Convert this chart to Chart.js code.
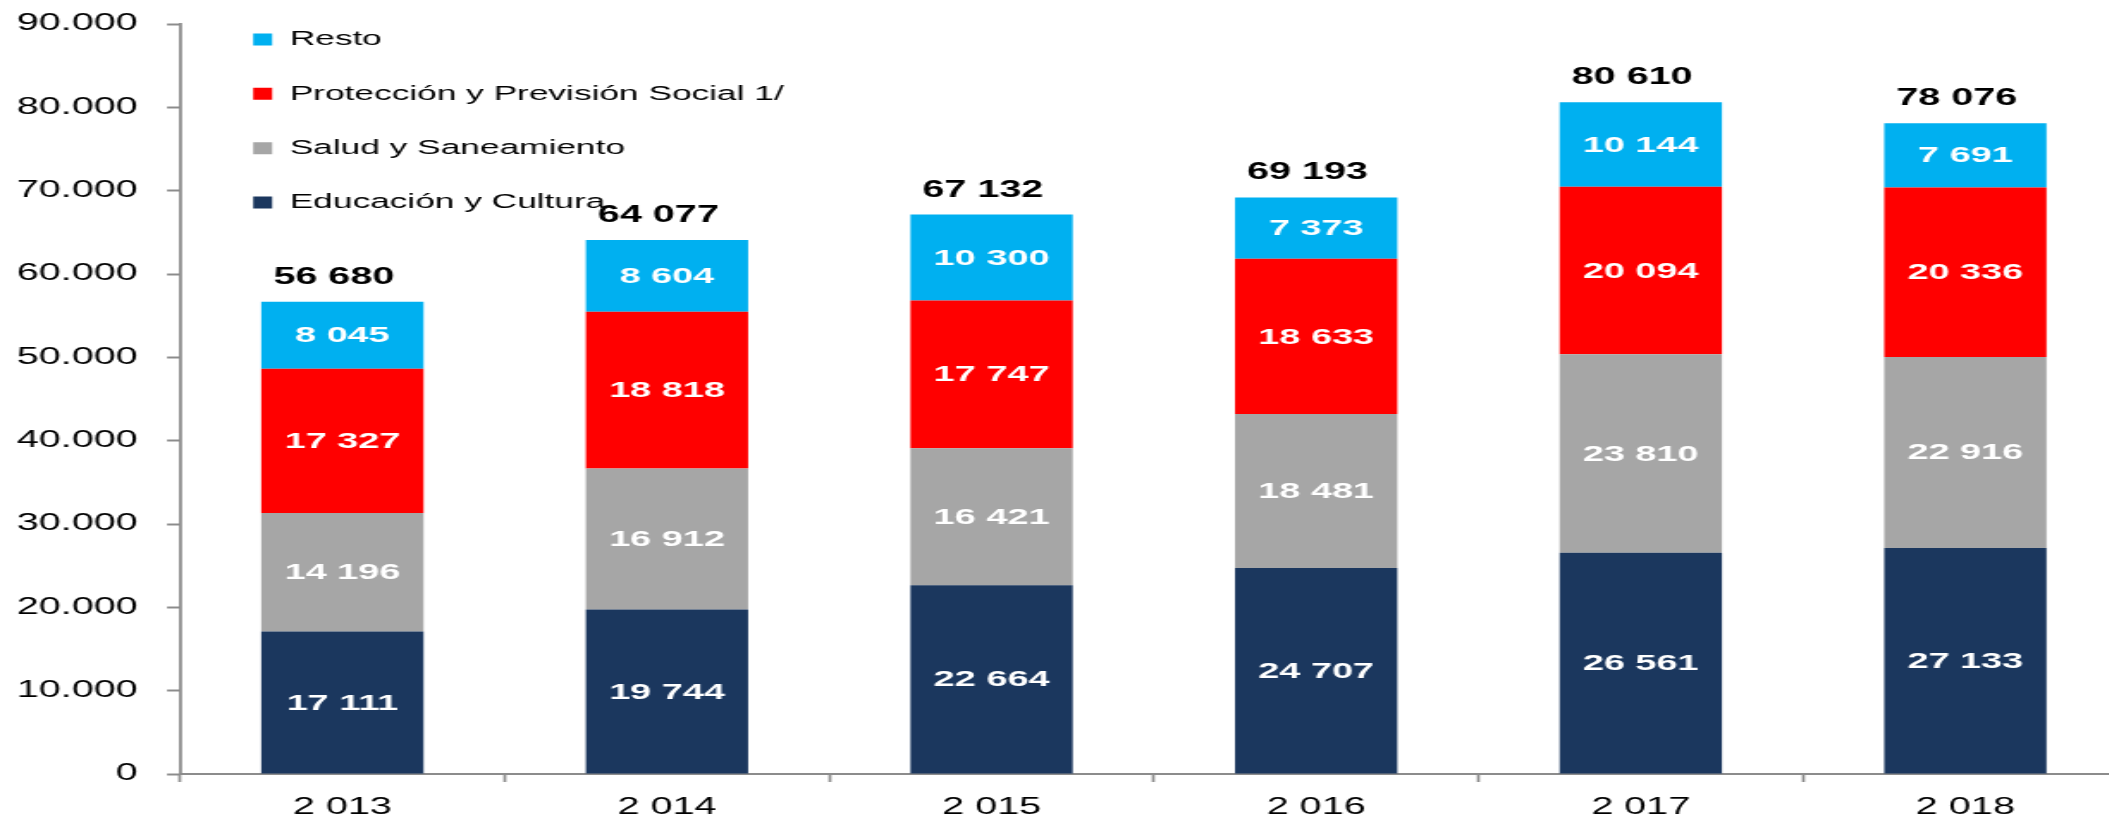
<!DOCTYPE html>
<html>
<head>
<meta charset="utf-8">
<script src="https://cdn.jsdelivr.net/npm/chart.js@4.4.1/dist/chart.umd.min.js"></script>
<style>
  html, body { margin: 0; padding: 0; background: #fff; overflow: hidden; }
  #wrap { width: 2109px; height: 818px; overflow: hidden; }
  /* the original picture is stretched horizontally, so is this canvas */
  #chart { width: 1238px; height: 818px; transform: scaleX(1.72); transform-origin: 0 0; }
</style>
</head>
<body>
<div id="wrap"><canvas id="chart" width="1238" height="818"></canvas></div>
<script>
const years = ['2 013', '2 014', '2 015', '2 016', '2 017', '2 018'];
const educacion = [17111, 19744, 22664, 24707, 26561, 27133];
const salud = [14196, 16912, 16421, 18481, 23810, 22916];
const proteccion = [17327, 18818, 17747, 18633, 20094, 20336];
const resto = [8045, 8604, 10300, 7373, 10144, 7691];
const totals = [56680, 64077, 67132, 69193, 80610, 78076];

const FONT = "'Liberation Sans', Arial, sans-serif";
const AXIS_GRAY = '#8c8c8c';

function spaced(n) {
	return String(n).replace(/\B(?=(\d{3})+(?!\d))/g, ' ');
}

const barLabels = {
	id: 'barLabels',
	afterLayout(chart) {
		// legend sits inside the plot, nudged up to the top left corner
		const legend = chart.legend;
		legend.left = chart.chartArea.left + 8.7;
		legend.top = chart.chartArea.top - 28.5;
	},
	afterDatasetsDraw(chart) {
		const ctx = chart.ctx;
		ctx.save();
		ctx.textAlign = 'center';
		ctx.textBaseline = 'middle';
		ctx.fillStyle = '#ffffff';
		ctx.font = 'bold 22px ' + FONT;
		chart.data.datasets.forEach((ds, i) => {
			chart.getDatasetMeta(i).data.forEach((bar, j) => {
				ctx.fillText(spaced(ds.data[j]), bar.x, (bar.y + bar.base) / 2 + 1);
			});
		});

		const last = chart.data.datasets.length - 1;
		ctx.fillStyle = '#000000';
		ctx.font = 'bold 23px ' + FONT;
		ctx.textBaseline = 'alphabetic';
		chart.getDatasetMeta(last).data.forEach((bar, j) => {
			ctx.fillText(spaced(totals[j]), bar.x - 5, bar.y - 18);
		});
		ctx.restore();
	}
};

const data = {
	labels: years,
	datasets: [
		{ label: 'Educación y Cultura', data: educacion, backgroundColor: '#1b375e' },
		{ label: 'Salud y Saneamiento', data: salud, backgroundColor: '#a6a6a6' },
		{ label: 'Protección y Previsión Social 1/', data: proteccion, backgroundColor: '#ff0000' },
		{ label: 'Resto', data: resto, backgroundColor: '#00b0f0' }
	]
};

const config = {
	type: 'bar',
	data: data,
	options: {
		responsive: false,
		animation: false,
		devicePixelRatio: 1,
		layout: { padding: { top: 24, right: 1, left: 0, bottom: 0 } },
		datasets: {
			bar: { barPercentage: 0.5, categoryPercentage: 1, borderWidth: 0 }
		},
		plugins: {
			tooltip: { enabled: false },
			legend: {
				position: 'chartArea',
				align: 'start',
				labels: {
					sort: (a, b) => b.datasetIndex - a.datasetIndex,
					boxWidth: 11,
					boxHeight: 12,
					padding: 33.8,
					color: '#000',
					font: { family: FONT, size: 20.5 }
				}
			}
		},
		scales: {
			x: {
				stacked: true,
				afterFit: s => { s.height = 44; },
				grid: {
					offset: true,
					drawOnChartArea: false,
					drawTicks: true,
					tickLength: 8,
					tickWidth: 1.7,
					tickColor: AXIS_GRAY
				},
				border: { display: true, color: AXIS_GRAY, width: 2 },
				ticks: {
					color: '#000',
					padding: 12,
					maxRotation: 0,
					font: { family: FONT, size: 23 }
				}
			},
			y: {
				stacked: true,
				min: 0,
				max: 90000,
				afterFit: s => {
					s.width = 104.7;
					s.paddingTop = 0;
					s.paddingBottom = 0;
				},
				grid: {
					drawOnChartArea: false,
					drawTicks: true,
					tickLength: 7.6,
					tickWidth: 2,
					tickColor: AXIS_GRAY
				},
				border: { display: true, color: AXIS_GRAY, width: 1.8 },
				ticks: {
					stepSize: 10000,
					color: '#000',
					padding: 17,
					font: { family: FONT, size: 23 },
					callback: v => String(v).replace(/\B(?=(\d{3})+(?!\d))/g, '.')
				}
			}
		}
	},
	plugins: [barLabels]
};

new Chart(document.getElementById('chart').getContext('2d'), config);
</script>
</body>
</html>
